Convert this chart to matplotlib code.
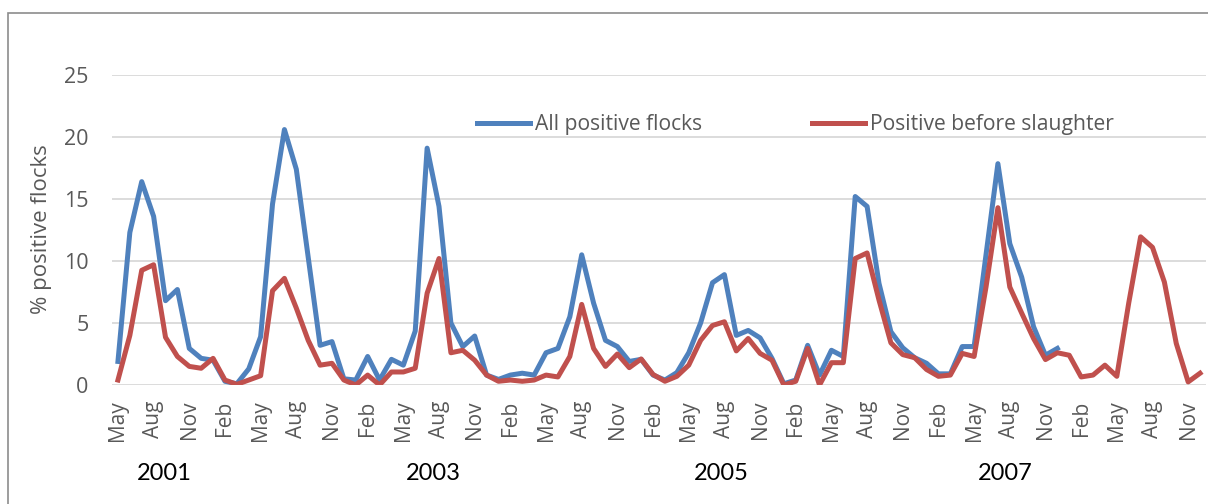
import matplotlib
matplotlib.use("Agg")
import matplotlib.pyplot as plt
import numpy as np
from matplotlib.patches import Rectangle
from matplotlib.transforms import blended_transform_factory

# monthly % positive flocks, May 2001 onwards
all_positive = [
    1.9, 12.3, 16.4, 13.6, 6.8, 7.7, 2.95, 2.15, 2.0, 0.3, 0.1, 1.3,
    3.9, 14.6, 20.6, 17.4, 10.3, 3.2, 3.5, 0.5, 0.4, 2.3, 0.4, 2.07,
    1.6, 4.35, 19.1, 14.4, 5.0, 3.1, 3.95, 0.8, 0.45, 0.8, 0.95, 0.8,
    2.6, 2.95, 5.5, 10.5, 6.6, 3.6, 3.1, 1.9, 2.07, 0.8, 0.4, 1.0,
    2.6, 5.0, 8.25, 8.9, 4.0, 4.4, 3.8, 2.15, 0.1, 0.4, 3.2, 0.8,
    2.8, 2.3, 15.2, 14.4, 8.2, 4.3, 3.0, 2.2, 1.75, 0.9, 0.9, 3.1,
    3.1, 10.5, 17.85, 11.4, 8.7, 4.7, 2.4, 2.95,
]
before_slaughter = [
    0.4, 4.0, 9.25, 9.7, 3.85, 2.3, 1.5, 1.35, 2.15, 0.4, 0.05, 0.4,
    0.75, 7.6, 8.6, 6.2, 3.6, 1.6, 1.75, 0.4, 0.0, 0.8, 0.0, 1.05,
    1.05, 1.35, 7.4, 10.2, 2.6, 2.8, 2.0, 0.8, 0.3, 0.4, 0.3, 0.4,
    0.8, 0.65, 2.3, 6.5, 2.95, 1.5, 2.5, 1.4, 2.1, 0.85, 0.3, 0.7,
    1.6, 3.6, 4.8, 5.1, 2.75, 3.75, 2.55, 2.0, 0.0, 0.3, 2.95, 0.0,
    1.8, 1.8, 10.2, 10.65, 6.85, 3.4, 2.45, 2.2, 1.25, 0.7, 0.8, 2.55,
    2.3, 7.9, 14.3, 7.9, 5.8, 3.75, 2.05, 2.6, 2.4, 0.65, 0.8, 1.6,
    0.7, 6.6, 11.95, 11.1, 8.3, 3.35, 0.25, 0.95,
]
tick_labels = [
    "May", "Aug", "Nov", "Feb", "May", "Aug", "Nov", "Feb",
    "May", "Aug", "Nov", "Feb", "May", "Aug", "Nov", "Feb",
    "May", "Aug", "Nov", "Feb", "May", "Aug", "Nov", "Feb",
    "May", "Aug", "Nov", "Feb", "May", "Aug", "Nov",
]
year_labels = ["2001", "2003", "2005", "2007"]
year_pos = [3.9, 26.5, 50.7, 74.6]

gray = "#595959"
label_font = ["Open Sans", "DejaVu Sans"]
year_font = ["Liberation Sans Narrow", "Lato", "DejaVu Sans"]

fig = plt.figure(figsize=(12.08, 5.04), dpi=100)
ax = fig.add_axes([112 / 1208, 1 - 385 / 504, 1094 / 1208, 310 / 504])

x_all = np.arange(len(all_positive))
x_red = np.arange(len(before_slaughter))
ax.plot(x_all, all_positive, color="#4F81BD", linewidth=3.6,
        solid_joinstyle="round", label="All positive flocks")
ax.plot(x_red, before_slaughter, color="#C0504D", linewidth=3.6,
        solid_joinstyle="round", label="Positive before slaughter")

ax.set_xlim(-0.5, len(before_slaughter) - 0.5)
ax.set_ylim(0, 25)
ax.set_yticks(np.arange(0, 26, 5))
ax.set_xticks(np.arange(0, len(before_slaughter), 3))
ax.set_xticklabels(tick_labels, rotation=90, fontsize=15, color=gray,
                   family=label_font)
for t in ax.get_yticklabels():
    t.set_fontsize(15.5)
    t.set_color(gray)
    t.set_family(label_font)
ax.tick_params(axis="x", length=0, pad=11)
ax.tick_params(axis="y", length=0, pad=17)
ax.grid(axis="y", color="#D9D9D9", linewidth=1.3)
ax.set_axisbelow(True)
for s in ax.spines.values():
    s.set_visible(False)

fig.text(42 / 1208, 0.545, "% positive flocks", rotation=90, ha="center",
         va="center", fontsize=16, color=gray, family=label_font)

leg = ax.legend(loc="center", bbox_to_anchor=(0.625, 0.839), ncol=2,
                frameon=False, handlelength=2.5, handletextpad=0.25,
                columnspacing=5.2, prop={"family": label_font, "size": 15.2})
for t in leg.get_texts():
    t.set_color(gray)

year_tr = blended_transform_factory(ax.transData, fig.transFigure)
for lab, pos in zip(year_labels, year_pos):
    ax.text(pos, 1 - 474 / 504, lab, transform=year_tr,
            ha="center", va="center", fontsize=17, color="black",
            family=year_font)

fig.patches.append(Rectangle((8 / 1208, -0.1), 1.1, 1.1 - 13 / 504,
                             transform=fig.transFigure, fill=False,
                             edgecolor="#8C8C8C", linewidth=1.2))

fig.savefig("out.png", dpi=100)
